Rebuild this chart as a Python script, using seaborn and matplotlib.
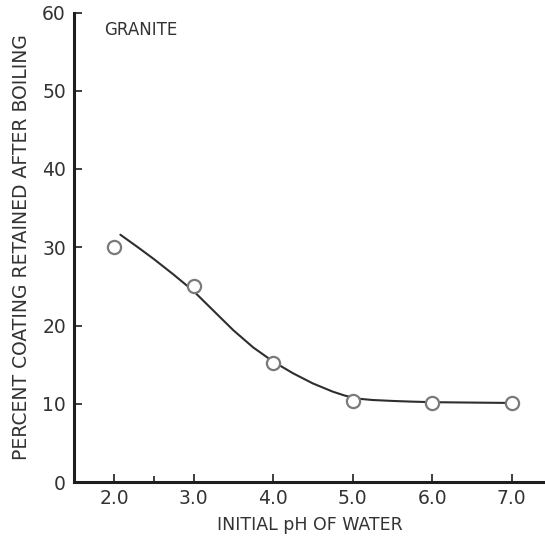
import matplotlib
matplotlib.use("Agg")
import matplotlib.pyplot as plt
import seaborn as sns
import pandas as pd

# Measured points: initial pH of water vs. percent coating retained
ph_values = [2.0, 3.0, 4.0, 5.0, 6.0, 7.0]
retained = [30.0, 25.0, 15.2, 10.35, 10.05, 10.1]

# Hand-faired curve through the measurements
curve_ph = [2.08, 2.3, 2.5, 2.75, 3.0, 3.25, 3.5, 3.75, 4.0, 4.25, 4.5, 4.75,
            4.9, 5.0, 5.1, 5.25, 5.5, 5.75, 6.0, 6.5, 7.0]
curve_pct = [31.6, 30.0, 28.5, 26.5, 24.4, 21.9, 19.4, 17.2, 15.4, 13.9, 12.6, 11.55,
             11.05, 10.8, 10.62, 10.48, 10.36, 10.27, 10.2, 10.15, 10.1]

x_ticks = [2.0, 3.0, 4.0, 5.0, 6.0, 7.0]
x_tick_labels = ["2.0", "3.0", "4.0", "5.0", "6.0", "7.0"]
y_ticks = [0, 10, 20, 30, 40, 50, 60]

points = pd.DataFrame({"ph": ph_values, "pct": retained})
curve = pd.DataFrame({"ph": curve_ph, "pct": curve_pct})

sns.set_style("ticks")
plt.rcParams["font.family"] = ["DejaVu Sans"]

fig = plt.figure(figsize=(5.45, 5.36), dpi=100)
ax = fig.add_axes([74.25 / 545, 54 / 536, 1 - 74.25 / 545, (482 - 12.5) / 536])

sns.lineplot(data=curve, x="ph", y="pct", ax=ax, color="#2e2e2e", linewidth=1.5,
             sort=False, zorder=2)
sns.scatterplot(data=points, x="ph", y="pct", ax=ax, marker="o", s=90,
                facecolor="white", edgecolor="#7a7a7a", linewidth=1.6, zorder=3)

ax.set_xlim(1.5, 7.42)
ax.set_ylim(0, 60)
ax.set_xticks(x_ticks)
ax.set_xticklabels(x_tick_labels)
ax.set_xticks([2.5], minor=True)
ax.set_yticks(y_ticks)

for side in ("top", "right"):
    ax.spines[side].set_visible(False)
for side in ("left", "bottom"):
    ax.spines[side].set_linewidth(2.2)
    ax.spines[side].set_color("#1e1e1e")

ax.tick_params(axis="both", which="major", direction="in", length=6, width=1.2,
               colors="#1e1e1e", labelsize=13.5, labelcolor="#333333")
ax.tick_params(axis="x", which="minor", direction="in", length=4, width=1.2,
               colors="#1e1e1e")
ax.tick_params(axis="x", pad=5)
ax.tick_params(axis="y", pad=6)

ax.set_xlabel("INITIAL pH OF WATER", fontsize=12.5, color="#333333", labelpad=6)
ax.set_ylabel("PERCENT COATING RETAINED AFTER BOILING", fontsize=13.5,
              color="#333333", labelpad=8)

ax.text(1.87, 57.8, "GRANITE", fontsize=12, color="#333333", ha="left", va="center")

fig.savefig("out.png", dpi=100)
